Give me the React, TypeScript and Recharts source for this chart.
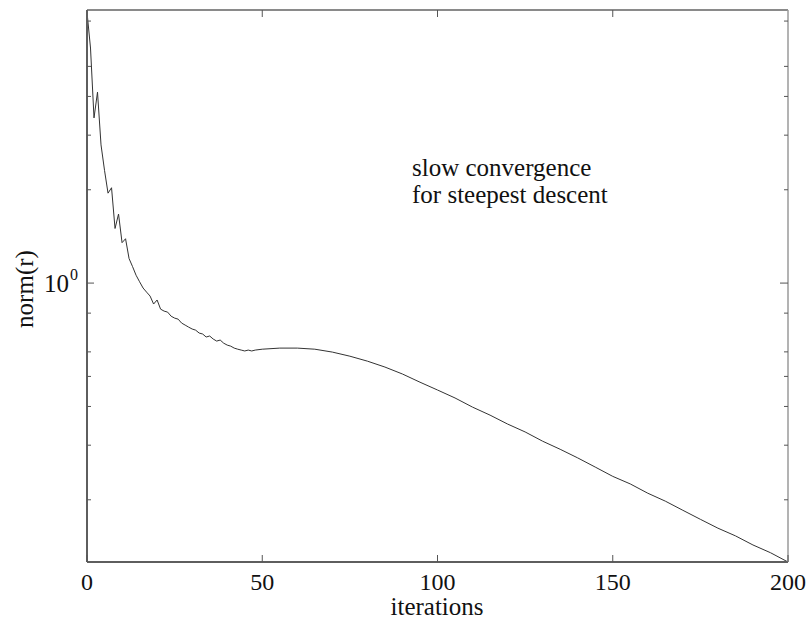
import { LineChart, Line, XAxis, YAxis } from 'recharts'

// iteration number and residual norm
const iterations = [
  0, 1, 2, 3, 4, 5, 6, 7, 8, 9, 10, 11, 12, 13, 14, 15, 16, 17, 18, 19, 20,
  21, 22, 23, 24, 25, 26, 27, 28, 29, 30, 31, 32, 33, 34, 35, 36, 37, 38, 39, 40,
  41, 42, 43, 44, 45, 46, 47, 48, 50, 55, 60, 65, 70, 75, 80, 85, 90, 95, 100,
  105, 110, 115, 120, 125, 130, 135, 140, 145, 150, 155, 160, 165, 170, 175, 180,
  185, 190, 195, 200,
]
const normR = [
  7.48, 5.73, 3.41, 4.13, 2.79, 2.31, 1.95, 2.03, 1.5, 1.67, 1.35, 1.39, 1.2, 1.13, 1.06, 1.01, 0.964, 0.935, 0.908, 0.856, 0.882,
  0.824, 0.812, 0.806, 0.782, 0.771, 0.765, 0.743, 0.732, 0.721, 0.711, 0.705, 0.69, 0.685, 0.67, 0.675, 0.66, 0.65, 0.655, 0.64, 0.631,
  0.626, 0.617, 0.612, 0.608, 0.604, 0.608, 0.604, 0.608, 0.612, 0.617, 0.617, 0.612, 0.599, 0.581, 0.56, 0.536, 0.509, 0.479, 0.452,
  0.426, 0.398, 0.375, 0.351, 0.331, 0.309, 0.291, 0.273, 0.255, 0.238, 0.225, 0.21, 0.198, 0.185, 0.173, 0.162,
  0.153, 0.143, 0.135, 0.126,
]

const xTicks = [0, 50, 100, 150, 200]
const xTopTicks = [50, 100, 150]
const yTicks = [0.2, 0.3, 0.4, 0.5, 0.6, 0.7, 0.8, 0.9, 1, 2, 3, 4, 5, 6, 7]
const yDomain = [0.126, 7.6]

const data = iterations.map((it, i) => ({ it, r: normR[i] }))

const FONT = '"Liberation Serif", "Times New Roman", serif'
const LEFT = 87
const RIGHT = 788
const TOP = 10
const BOTTOM = 562

const BottomTick = ({ x, payload }: any) => (
  <g>
    <line x1={x} x2={x} y1={BOTTOM} y2={BOTTOM - 7} stroke="#555" strokeWidth={1} />
    <text x={x} y={590} textAnchor="middle" fontFamily={FONT} fontSize={24} fill="#111">
      {payload.value}
    </text>
  </g>
)

const TopTick = ({ x }: any) => (
  <line x1={x} x2={x} y1={TOP} y2={TOP + 7} stroke="#555" strokeWidth={1} />
)

const LeftTick = ({ y, payload }: any) => {
  const major = payload.value === 1
  return (
    <g>
      <line x1={LEFT} x2={LEFT + (major ? 7 : 4)} y1={y} y2={y} stroke="#555" strokeWidth={1} />
      {major && (
        <text x={44} y={y + 9} fontFamily={FONT} fontSize={25} fill="#111">
          10
          <tspan dx={1} dy={-12} fontSize={16}>0</tspan>
        </text>
      )}
    </g>
  )
}

const RightTick = ({ y, payload }: any) => {
  const major = payload.value === 1
  return <line x1={RIGHT} x2={RIGHT - (major ? 8 : 4)} y1={y} y2={y} stroke="#555" strokeWidth={1} />
}

const App = () => {
  return (
    <div style={{ position: 'absolute', left: 0, top: 0, width: 807, height: 626, background: '#fff' }}>
      <LineChart width={807} height={626} data={data} margin={{ top: 0, right: 0, bottom: 0, left: 0 }}>
        <XAxis
          xAxisId="bottom"
          dataKey="it"
          type="number"
          domain={[0, 200]}
          ticks={xTicks}
          height={64}
          tickLine={false}
          axisLine={{ stroke: '#5e5e5e', strokeWidth: 2 }}
          tick={BottomTick}
          label={{
            content: () => (
              <text x={437} y={615} textAnchor="middle" fontFamily={FONT} fontSize={25} fill="#111">
                iterations
              </text>
            ),
          }}
        />
        <XAxis
          xAxisId="top"
          orientation="top"
          dataKey="it"
          type="number"
          domain={[0, 200]}
          ticks={xTopTicks}
          height={10}
          tickLine={false}
          axisLine={{ stroke: '#8a8a8a', strokeWidth: 2 }}
          tick={TopTick}
        />
        <YAxis
          yAxisId="left"
          scale="log"
          type="number"
          domain={yDomain}
          allowDataOverflow
          ticks={yTicks}
          width={87}
          tickLine={false}
          axisLine={{ stroke: '#5e5e5e', strokeWidth: 2 }}
          tick={LeftTick}
          label={{
            content: () => (
              <text
                transform="translate(24, 289) rotate(-90)"
                textAnchor="middle"
                dominantBaseline="central"
                fontFamily={FONT}
                fontSize={25}
                fill="#111"
              >
                norm(r)
              </text>
            ),
          }}
        />
        <YAxis
          yAxisId="right"
          orientation="right"
          scale="log"
          type="number"
          domain={yDomain}
          allowDataOverflow
          ticks={yTicks}
          width={19}
          tickLine={false}
          axisLine={{ stroke: '#9a9a9a', strokeWidth: 1.5 }}
          tick={RightTick}
        />
        <Line
          xAxisId="top"
          yAxisId="right"
          dataKey="r"
          stroke="none"
          dot={false}
          activeDot={false}
          isAnimationActive={false}
        />
        <Line
          xAxisId="bottom"
          yAxisId="left"
          dataKey="r"
          type="linear"
          stroke="#333"
          strokeWidth={1}
          dot={false}
          activeDot={false}
          isAnimationActive={false}
        />
      </LineChart>
      <div
        style={{
          position: 'absolute',
          left: 412,
          top: 154,
          fontFamily: FONT,
          fontSize: 25,
          lineHeight: '27px',
          color: '#111',
          whiteSpace: 'nowrap',
        }}
      >
        slow convergence
        <br />
        for steepest descent
      </div>
    </div>
  )
}

export default App
